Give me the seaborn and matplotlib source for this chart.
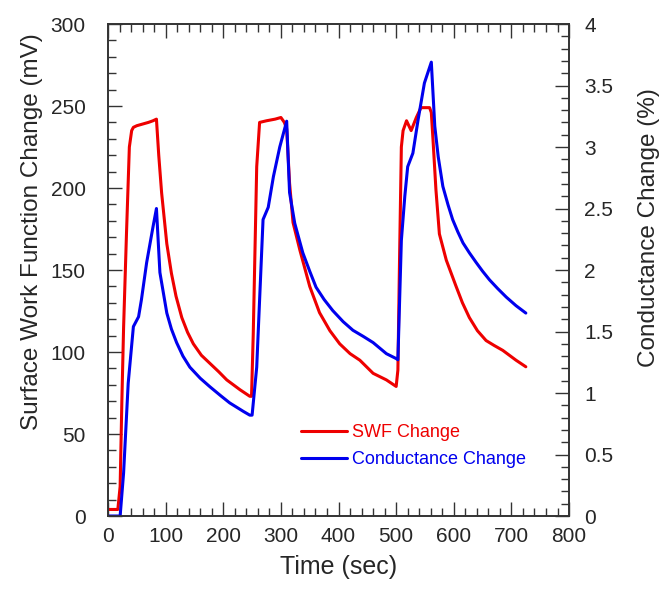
import numpy as np
import pandas as pd
import seaborn as sns
import matplotlib.pyplot as plt
from matplotlib.ticker import MultipleLocator, FuncFormatter

# === data ===
swf_time = [0, 10, 17, 21, 24, 27, 32, 37, 41, 44, 50, 60, 70, 78, 84, 88, 93, 102, 110, 118,
            128, 138, 148, 162, 177, 192, 206, 229, 246, 249, 252, 258, 263, 275, 290, 300, 306,
            310, 315, 321, 333, 350, 367, 385, 402, 420, 437, 460, 483, 500, 503, 506, 509, 512,
            518, 526, 535, 543, 558, 561, 564, 569, 575, 587, 604, 615, 627, 641, 656, 670, 685,
            708, 725]
swf_mv = [4, 4, 4, 18, 70, 115, 172, 225, 235, 237, 238, 239, 240, 241, 242, 220, 197, 166, 148,
          134, 121, 112, 105, 98, 93, 88, 83, 77, 73, 73, 111, 213, 240, 241, 242, 243, 240,
          236, 203, 179, 162, 140, 124, 113, 105, 99, 95, 87, 83, 79, 89, 160, 225, 235,
          241, 235, 243, 249, 249, 246, 229, 199, 172, 156, 140, 130, 121, 113, 107, 104, 101,
          95, 91]

cond_time = [0, 10, 21, 27, 35, 44, 53, 58, 67, 78, 84, 90, 102, 110, 119, 130, 142, 160, 177,
             195, 211, 235, 246, 250, 258, 269, 278, 287, 298, 310, 315, 324, 338, 350, 361,
             375, 390, 408, 425, 443, 460, 483, 500, 503, 509, 515, 520, 529, 538, 549, 561,
             567, 573, 581, 590, 598, 607, 616, 627, 639, 650, 662, 676, 691, 708, 725]
cond_pct = [0, 0, 0, 0.35, 1.08, 1.54, 1.62, 1.76, 2.06, 2.35, 2.50, 1.98, 1.65, 1.52, 1.41,
            1.30, 1.21, 1.12, 1.05, 0.98, 0.92, 0.85, 0.82, 0.82, 1.21, 2.41, 2.51, 2.76, 3.0,
            3.21, 2.63, 2.38, 2.14, 1.99, 1.86, 1.76, 1.67, 1.58, 1.51, 1.46, 1.41, 1.32, 1.28,
            1.27, 2.24, 2.60, 2.84, 2.95, 3.22, 3.52, 3.69, 3.17, 2.92, 2.68, 2.53, 2.41, 2.31,
            2.22, 2.14, 2.06, 1.99, 1.92, 1.85, 1.78, 1.71, 1.65]

swf = pd.DataFrame({"Time": swf_time, "SWF": swf_mv})
cond = pd.DataFrame({"Time": cond_time, "Cond": cond_pct})

# === style ===
sns.set_style("ticks")
plt.rcParams["font.family"] = ["Liberation Sans", "DejaVu Sans"]
frame = "#333333"
red = "#ee0000"
blue = "#0000ee"

fig = plt.figure(figsize=(6.64, 5.90), dpi=100)
ax = fig.add_axes([0.1627, 0.1254, 0.6943, 0.8339])
ax2 = ax.twinx()

sns.lineplot(data=swf, x="Time", y="SWF", ax=ax, color=red, lw=2.2, label="SWF Change", legend=False)
sns.lineplot(data=cond, x="Time", y="Cond", ax=ax2, color=blue, lw=2.2, label="Conductance Change", legend=False)

ax.set_xlim(0, 800)
ax.set_ylim(0, 300)
ax2.set_ylim(0, 4)

ax.xaxis.set_major_locator(MultipleLocator(100))
ax.xaxis.set_minor_locator(MultipleLocator(20))
ax.yaxis.set_major_locator(MultipleLocator(50))
ax.yaxis.set_minor_locator(MultipleLocator(10))
ax2.yaxis.set_major_locator(MultipleLocator(0.5))
ax2.yaxis.set_minor_locator(MultipleLocator(0.1))
ax2.yaxis.set_major_formatter(FuncFormatter(lambda v, _: f"{v:g}"))

ax.tick_params(which="both", direction="in", top=True, right=False, color=frame, labelsize=15)
ax.tick_params(which="major", length=10, width=1)
ax.tick_params(which="minor", length=5.5, width=1)
ax.tick_params(axis="y", pad=16)
ax.tick_params(axis="x", pad=8)
ax2.tick_params(which="both", direction="in", right=True, color=frame, labelsize=15, pad=11)
ax2.tick_params(which="major", length=10, width=1)
ax2.tick_params(which="minor", length=5.5, width=1)

for a in (ax, ax2):
    for s in a.spines.values():
        s.set_color(frame)
        s.set_linewidth(1.2)

ax.set_xlabel("Time (sec)", fontsize=18)
ax.set_ylabel("Surface Work Function Change (mV)", fontsize=17.5)
ax2.set_ylabel("Conductance Change (%)", fontsize=17.5)
ax.xaxis.set_label_coords(0.5, -0.08)
ax.yaxis.set_label_coords(-0.141, 0.579)
ax2.yaxis.set_label_coords(1.150, 0.587)

h1, l1 = ax.get_legend_handles_labels()
h2, l2 = ax2.get_legend_handles_labels()
leg = ax2.legend(h1 + h2, l1 + l2, loc="upper left", bbox_to_anchor=(0.40, 0.205),
                 frameon=False, fontsize=13, handlelength=2.5, handletextpad=0.3,
                 labelspacing=0.55, borderpad=0, labelcolor="linecolor")

fig.savefig("out.png", dpi=100)
